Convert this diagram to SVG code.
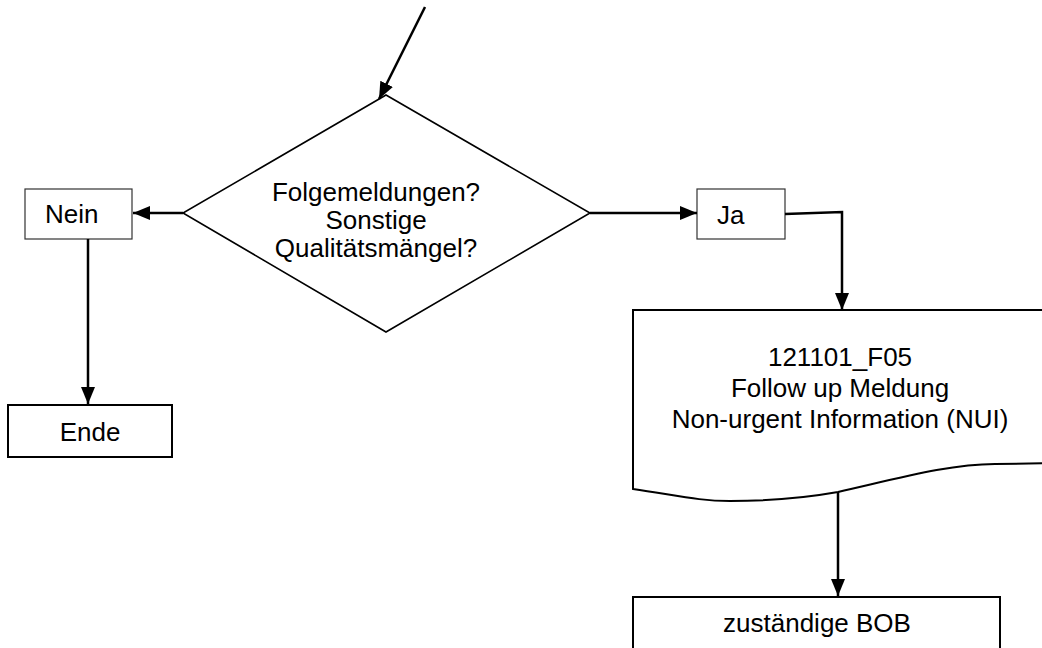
<svg xmlns="http://www.w3.org/2000/svg" width="1042" height="648" viewBox="0 0 1042 648">
<defs>
<style>
text{font-family:"Liberation Sans",Arial,sans-serif;font-size:26px;fill:#000}
.c{text-anchor:middle}
.thin{fill:#fff;stroke:#333;stroke-width:1.2}
.bold{fill:#fff;stroke:#000;stroke-width:2}
.edge{fill:none;stroke:#000;stroke-width:2.5}
</style>
<marker id="ah" markerUnits="userSpaceOnUse" markerWidth="18" markerHeight="15" refX="17" refY="7" orient="auto">
<path d="M0,0 L17,7 L0,14 z" fill="#000"/>
</marker>
</defs>
<rect width="1042" height="648" fill="#fff"/>
<g id="decision">
<polygon points="386,95 590,213 386,332 183,213" fill="#fff" stroke="#000" stroke-width="1.6"/>
<text class="c" x="376" y="201">Folgemeldungen?</text>
<text class="c" x="376" y="229">Sonstige</text>
<text class="c" x="376" y="257">Qualitätsmängel?</text>
</g>
<g id="nein">
<rect class="thin" x="25" y="189" width="107" height="50"/>
<text x="45" y="223">Nein</text>
</g>
<g id="ende">
<rect class="bold" x="8" y="405" width="164" height="52"/>
<text class="c" x="90" y="441">Ende</text>
</g>
<g id="ja">
<rect class="thin" x="697" y="189" width="88" height="50"/>
<text x="717" y="224">Ja</text>
</g>
<g id="document">
<path class="bold" d="M1060,310 L633,310 L633,489 C680,496 700,501 730,501 C780,501 810,497 838,492 C900,478 950,464 995,464 L1060,463"/>
<text class="c" x="840" y="366">121101_F05</text>
<text class="c" x="840" y="397">Follow up Meldung</text>
<text class="c" x="840" y="428">Non-urgent Information (NUI)</text>
</g>
<g id="bob">
<rect class="bold" x="633" y="597" width="367" height="62"/>
<text class="c" x="817" y="632">zuständige BOB</text>
</g>
<g id="connectors">
<line class="edge" x1="425" y1="7" x2="379" y2="99" marker-end="url(#ah)"/>
<line class="edge" x1="183" y1="213" x2="133" y2="213" marker-end="url(#ah)"/>
<line class="edge" x1="88" y1="239" x2="88" y2="404" marker-end="url(#ah)"/>
<line class="edge" x1="590" y1="213" x2="697" y2="213" marker-end="url(#ah)"/>
<polyline class="edge" points="785,214 842,212 842,310" marker-end="url(#ah)"/>
<line class="edge" x1="838" y1="492" x2="838" y2="596" marker-end="url(#ah)"/>
</g>
</svg>
